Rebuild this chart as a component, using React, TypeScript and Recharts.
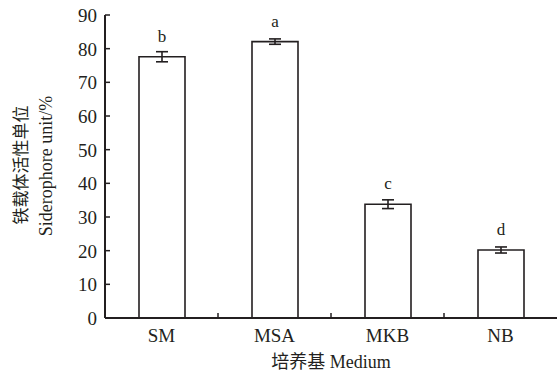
import { BarChart, Bar, XAxis, YAxis, ErrorBar, LabelList, Label } from 'recharts';

const categories = ['SM', 'MSA', 'MKB', 'NB'];
const values = [77.6, 82.1, 33.8, 20.2];
const errors = [1.5, 0.8, 1.3, 0.9];
const letters = ['b', 'a', 'c', 'd'];
const yTicks = [0, 10, 20, 30, 40, 50, 60, 70, 80, 90];

const data = categories.map((name, i) => ({
  name,
  value: values[i],
  err: errors[i],
  letter: letters[i],
}));

const W = 557;
const H = 378;
const LEFT = 105;
const TOP = 15;
const BOTTOM = 60;
const BAND = (W - LEFT) / categories.length;
const FONT = '"Liberation Serif", "Times New Roman", "Noto Sans CJK SC", serif';
const INK = '#231f20';

const YTick = (props: any) => {
  const { x, y, payload } = props;
  return (
    <g>
      <line x1={x + 8} x2={x + 13} y1={y} y2={y} stroke={INK} strokeWidth={1.5} />
      <text x={x} y={y} dy="0.36em" textAnchor="end" fontSize={19} fontFamily={FONT} fill={INK}>
        {payload.value}
      </text>
    </g>
  );
};

const XTick = (props: any) => {
  const { x, y, payload, index } = props;
  const axisY = y - 10;
  return (
    <g>
      {index > 0 && (
        <line x1={x - BAND / 2} x2={x - BAND / 2} y1={axisY} y2={axisY - 5} stroke={INK} strokeWidth={1.5} />
      )}
      <text x={x} y={y} dy="0.72em" textAnchor="middle" fontSize={19} fontFamily={FONT} fill={INK}>
        {payload.value}
      </text>
    </g>
  );
};

const YLabel = () => (
  <g>
    <text
      x={0}
      y={0}
      transform="translate(21,165) rotate(-90)"
      dy="0.36em"
      textAnchor="middle"
      fontSize={17}
      fontFamily={FONT}
      fill={INK}
    >
      铁载体活性单位
    </text>
    <text
      x={0}
      y={0}
      transform="translate(46,166) rotate(-90)"
      dy="0.36em"
      textAnchor="middle"
      fontSize={18}
      fontFamily={FONT}
      fill={INK}
    >
      Siderophore unit/%
    </text>
  </g>
);

const XLabel = () => (
  <text x={331} y={362} dy="0.36em" textAnchor="middle" fontSize={18} fontFamily={FONT} fill={INK}>
    培养基 Medium
  </text>
);

export default function App() {
  return (
    <div style={{ position: 'absolute', left: 0, top: 0, width: W, height: H, background: '#fff' }}>
      <BarChart
        width={W}
        height={H}
        data={data}
        margin={{ top: TOP, right: 0, bottom: 0, left: LEFT - 60 }}
      >
        <XAxis
          dataKey="name"
          tickSize={0}
          tickMargin={10}
          tickLine={false}
          axisLine={{ stroke: INK, strokeWidth: 2 }}
          tick={<XTick />}
          interval={0}
          height={BOTTOM}
        >
          <Label content={<XLabel />} />
        </XAxis>
        <YAxis
          width={60}
          domain={[0, 90]}
          ticks={yTicks}
          tickSize={0}
          tickMargin={8}
          tickLine={false}
          axisLine={{ stroke: INK, strokeWidth: 2 }}
          tick={<YTick />}
          interval={0}
        >
          <Label content={<YLabel />} />
        </YAxis>
        <Bar
          dataKey="value"
          fill="#fff"
          stroke={INK}
          strokeWidth={1.6}
          barSize={46}
          isAnimationActive={false}
        >
          <ErrorBar dataKey="err" width={6} stroke={INK} strokeWidth={1.6} />
          <LabelList
            dataKey="letter"
            position="top"
            offset={15}
            fontSize={17}
            fontFamily={FONT}
            fill={INK}
          />
        </Bar>
      </BarChart>
    </div>
  );
}
